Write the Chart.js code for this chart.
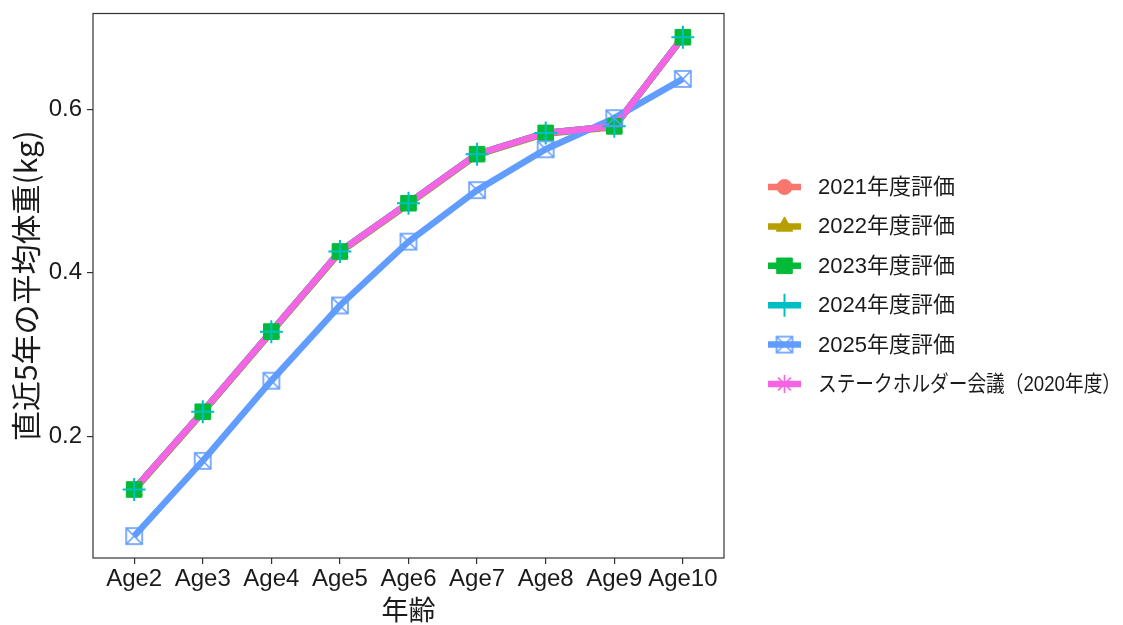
<!DOCTYPE html>
<html>
<head>
<meta charset="utf-8">
<script src="https://cdn.jsdelivr.net/npm/chart.js@4"></script>
<style>
  html, body { margin: 0; padding: 0; background: #fff; }
  #wrap { width: 1123px; height: 625px; }
</style>
</head>
<body>
<div id="wrap"><canvas id="weightChart" width="1123" height="625"></canvas></div>
<script>
const ages = ['Age2', 'Age3', 'Age4', 'Age5', 'Age6', 'Age7', 'Age8', 'Age9', 'Age10'];
const yTicks = [0.2, 0.4, 0.6];

const eval2021 = [0.135, 0.230, 0.328, 0.426, 0.485, 0.545, 0.571, 0.579, 0.688];
const eval2022 = [0.134, 0.229, 0.327, 0.425, 0.484, 0.544, 0.570, 0.578, 0.688];
const eval2023 = [0.135, 0.230, 0.328, 0.426, 0.485, 0.545, 0.571, 0.579, 0.688];
const eval2024 = [0.135, 0.230, 0.328, 0.426, 0.485, 0.545, 0.571, 0.579, 0.688];
const eval2025 = [0.078, 0.170, 0.268, 0.360, 0.438, 0.501, 0.551, 0.589, 0.637];
const stakeholder2020 = [0.135, 0.230, 0.328, 0.426, 0.485, 0.545, 0.571, 0.579, 0.688];

const seriesNames = ['2021年度評価', '2022年度評価', '2023年度評価', '2024年度評価', '2025年度評価', 'ステークホルダー会議（2020年度）'];
const seriesData = [eval2021, eval2022, eval2023, eval2024, eval2025, stakeholder2020];
const colors = ['#F8766D', '#B79F00', '#00BA38', '#00BFC4', '#619CFF', '#F564E3'];

// open square with an X inside (ggplot shape 7)
function squareCross(color, size) {
  const c = document.createElement('canvas');
  c.width = size + 4; c.height = size + 4;
  const g = c.getContext('2d');
  const o = 2, s = size;
  g.strokeStyle = color;
  g.lineWidth = 1.6;
  g.strokeRect(o, o, s, s);
  g.beginPath();
  g.moveTo(o, o); g.lineTo(o + s, o + s);
  g.moveTo(o + s, o); g.lineTo(o, o + s);
  g.stroke();
  return c;
}
const sqX = squareCross('#619CFF', 16);

const pointStyles = ['circle', 'triangle', 'rect', 'cross', sqX, 'star'];
const pointRadii = [7.5, 9.5, 11, 11.5, 9, 9];
const pointBorders = [1, 1, 1, 2, 1.6, 1.6];

const toXY = arr => arr.map((v, i) => ({ x: i, y: v }));

const datasets = [];
// all lines underneath, stakeholder line on top of them
seriesData.forEach((d, i) => {
  datasets.push({
    label: seriesNames[i],
    data: toXY(d),
    borderColor: colors[i],
    backgroundColor: colors[i],
    borderWidth: 6.5,
    pointRadius: 0,
    tension: 0,
    order: 20 - i
  });
});
// markers above every line (stakeholder markers are hidden in the original)
for (let i = 0; i < 5; i++) {
  datasets.push({
    label: seriesNames[i] + ' pts',
    data: toXY(seriesData[i]),
    showLine: false,
    pointStyle: pointStyles[i],
    pointRadius: pointRadii[i],
    pointHoverRadius: pointRadii[i],
    pointBorderWidth: pointBorders[i],
    pointBorderColor: colors[i],
    pointBackgroundColor: i === 4 ? 'rgba(0,0,0,0)' : colors[i],
    order: 10 - i
  });
}

const panelBorder = {
  id: 'panelBorder',
  afterDatasetsDraw(chart) {
    const { ctx, chartArea: a } = chart;
    ctx.save();
    ctx.strokeStyle = '#333';
    ctx.lineWidth = 1.2;
    ctx.strokeRect(a.left, a.top, a.right - a.left, a.bottom - a.top);
    ctx.restore();
  }
};

const customLegend = {
  id: 'customLegend',
  afterDraw(chart) {
    const ctx = chart.ctx;
    const x0 = 768, x1 = 801, cx = 784.5, tx = 818;
    const y0 = 187, dy = 39.4;
    ctx.save();
    seriesNames.forEach((name, i) => {
      const y = y0 + i * dy;
      ctx.strokeStyle = colors[i];
      ctx.lineWidth = 6.5;
      ctx.beginPath();
      ctx.moveTo(x0, y); ctx.lineTo(x1, y);
      ctx.stroke();
      const ps = pointStyles[i];
      if (ps instanceof HTMLCanvasElement) {
        ctx.drawImage(ps, cx - ps.width / 2, y - ps.height / 2);
      } else {
        ctx.fillStyle = colors[i];
        ctx.strokeStyle = colors[i];
        ctx.lineWidth = pointBorders[i];
        Chart.helpers.drawPoint(ctx, {
          pointStyle: ps,
          radius: pointRadii[i],
          borderWidth: pointBorders[i],
          rotation: 0
        }, cx, y);
      }
      ctx.fillStyle = '#1a1a1a';
      ctx.font = '22px "Liberation Sans", "Noto Sans CJK JP", sans-serif';
      ctx.textBaseline = 'middle';
      ctx.textAlign = 'left';
      ctx.fillText(name, tx, y + 1, 1121 - tx);
    });
    ctx.restore();
  }
};

new Chart(document.getElementById('weightChart').getContext('2d'), {
  type: 'line',
  data: { datasets },
  options: {
    responsive: false,
    animation: false,
    layout: { padding: { top: 12, right: 399, left: 0, bottom: 0 } },
    plugins: {
      legend: { display: false },
      tooltip: { enabled: false }
    },
    scales: {
      x: {
        type: 'linear',
        min: -0.6,
        max: 8.6,
        afterBuildTicks: axis => { axis.ticks = ages.map((a, i) => ({ value: i })); },
        afterFit: scale => {
          scale.height = 67;
          scale.paddingLeft = 0;
          scale.paddingRight = 0;
        },
        ticks: {
          callback: v => ages[v],
          color: '#1a1a1a',
          font: { size: 24, family: '"Liberation Sans", sans-serif' },
          padding: 1,
          maxRotation: 0,
          autoSkip: false
        },
        grid: { drawOnChartArea: false, drawTicks: true, tickLength: 6, color: '#333', lineWidth: 1.2 },
        border: { display: false },
        title: {
          display: true,
          text: '年齢',
          color: '#1a1a1a',
          font: { size: 27, family: '"Noto Sans CJK JP", sans-serif' },
          padding: { top: 0, bottom: -1 }
        }
      },
      y: {
        min: 0.0512,
        max: 0.717,
        afterBuildTicks: axis => { axis.ticks = yTicks.map(v => ({ value: v })); },
        afterFit: scale => {
          scale.width = 93;
          scale.paddingTop = 0;
          scale.paddingBottom = 0;
        },
        ticks: {
          callback: v => v.toFixed(1),
          color: '#1a1a1a',
          font: { size: 24, family: '"Liberation Sans", sans-serif' },
          padding: 5
        },
        grid: { drawOnChartArea: false, drawTicks: true, tickLength: 6, color: '#333', lineWidth: 1.2 },
        border: { display: false },
        title: {
          display: true,
          text: '直近5年の平均体重(kg)',
          color: '#1a1a1a',
          font: { size: 30, family: '"Noto Sans CJK JP", sans-serif' },
          padding: { top: 8, bottom: 0 }
        }
      }
    }
  },
  plugins: [panelBorder, customLegend]
});
</script>
</body>
</html>
